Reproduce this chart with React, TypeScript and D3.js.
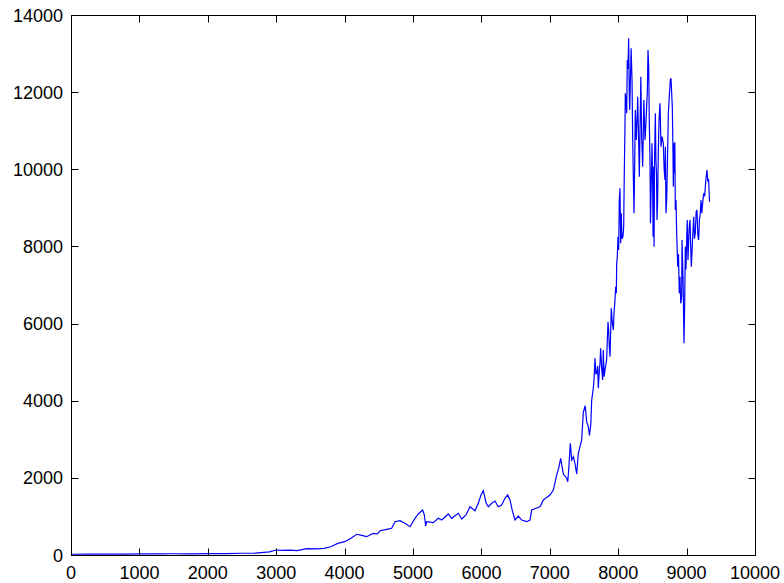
import React from "react";
import * as d3 from "d3";

const xTicks = [0, 1000, 2000, 3000, 4000, 5000, 6000, 7000, 8000, 9000, 10000];
const yTicks = [0, 2000, 4000, 6000, 8000, 10000, 12000, 14000];

const days = [
  0, 250, 500, 750, 1000, 1250, 1500, 1750, 2000, 2250, 2500, 2700, 2900, 3000, 3100, 3200, 3300, 3450, 3600, 3700,
  3800, 3850, 3900, 4000, 4100, 4177, 4250, 4322, 4370, 4418, 4480, 4518, 4615, 4688, 4737, 4810, 4883, 4956, 5029, 5078,
  5141, 5166, 5185, 5200, 5297, 5370, 5419, 5517, 5565, 5663, 5712, 5775, 5833, 5906, 5955, 5994, 6028, 6067, 6101, 6150,
  6199, 6247, 6296, 6345, 6384, 6418, 6452, 6491, 6539, 6589, 6662, 6711, 6735, 6780, 6857, 6906, 6960, 7003, 7052, 7100,
  7130, 7159, 7198, 7247, 7262, 7280, 7300, 7320, 7344, 7368, 7393, 7417, 7442, 7466, 7490, 7517, 7539, 7563, 7580, 7600,
  7612, 7636, 7646, 7661, 7673, 7685, 7700, 7709, 7725, 7734, 7743, 7760, 7773, 7782, 7795, 7807, 7831, 7841, 7851, 7861,
  7870, 7880, 7899, 7915, 7929, 7939, 7950, 7963, 7973, 7978, 7987, 7997, 8007, 8016, 8026, 8036, 8045, 8055, 8070, 8080,
  8089, 8099, 8104, 8114, 8124, 8133, 8143, 8153, 8162, 8168, 8178, 8189, 8202, 8212, 8221, 8231, 8241, 8250, 8265, 8278,
  8285, 8297, 8309, 8319, 8331, 8343, 8358, 8375, 8392, 8406, 8416, 8426, 8436, 8446, 8455, 8465, 8472, 8485, 8494, 8503,
  8510, 8519, 8524, 8532, 8543, 8552, 8560, 8567, 8577, 8586, 8597, 8611, 8626, 8640, 8660, 8672, 8684, 8690, 8699, 8709,
  8720, 8733, 8750, 8762, 8772, 8791, 8800, 8806, 8813, 8820, 8828, 8835, 8845, 8855, 8870, 8882, 8893, 8903, 8914, 8928,
  8933, 8943, 8950, 8962, 8972, 8981, 8991, 9001, 9010, 9020, 9032, 9039, 9050, 9060, 9069, 9080, 9090, 9104, 9115, 9127,
  9140, 9152, 9164, 9176, 9188, 9200, 9210, 9222, 9235, 9250, 9264, 9280, 9298, 9310, 9322, 9335,
];

const values = [
  20, 22, 25, 24, 28, 30, 32, 30, 35, 38, 45, 50, 80, 130, 120, 125, 115, 165, 160, 170,
  215, 260, 300, 345, 440, 537, 510, 475, 520, 560, 545, 630, 666, 692, 864, 890, 821, 734, 951, 1063,
  1167, 1037, 752, 864, 838, 951, 907, 1063, 951, 1081, 933, 1037, 1252, 1149, 1340, 1556, 1667, 1356, 1252, 1340,
  1400, 1252, 1296, 1470, 1556, 1426, 1149, 907, 1011, 907, 864, 907, 1167, 1200, 1252, 1426, 1500, 1556, 1685, 2070,
  2250, 2507, 2100, 1990, 1900, 2300, 2896, 2463, 2549, 2377, 2100, 2637, 2808, 2982, 3700, 3870, 3457, 3327, 3100, 3400,
  4000, 4322, 4537, 5100, 4700, 4711, 4900, 4322, 4800, 4970, 5358, 4800, 4537, 5315, 4624, 4797, 5056, 5574, 6049, 5800,
  5401, 5142, 6395, 6000, 5833, 6275, 6525, 6957, 6785, 7562, 7734, 8253, 7908, 9204, 9507, 8081, 8859, 8200, 8253, 8500,
  9896, 11105, 11970, 11800, 11451, 12834, 12600, 13396, 11970, 11537, 12300, 13137, 12315, 10760, 9809, 8859, 10155, 11537, 10760, 11400,
  11883, 10900, 9809, 11000, 12401, 10846, 10068, 11796, 10760, 11200, 11624, 12000, 13093, 12661, 11191, 10241, 8600, 9800, 10674, 9700,
  8253, 10068, 7994, 10300, 11451, 10200, 9896, 8685, 9204, 10400, 11278, 11710, 10587, 10846, 10674, 9982, 9723, 10587, 8859, 9204,
  10200, 11451, 11970, 12315, 12358, 11624, 10587, 9549, 10674, 9896, 10700, 8944, 9204, 8340, 7475, 7800, 6785, 7216, 6525, 6697,
  8167, 7475, 7000, 5488, 6500, 7994, 7400, 8167, 8685, 7648, 8200, 8512, 8685, 8000, 7475, 7900, 8300, 8771, 8200, 8340,
  8900, 8944, 8300, 8167, 8700, 8859, 9204, 8859, 9118, 9377, 9300, 9700, 9982, 9700, 9723, 9160,
];

const W = 784;
const H = 583;
const L = 71;
const R = 755;
const T = 15;
const B = 555;
const TICK = 7;
const FONT = "'Liberation Sans', Arial, Helvetica, sans-serif";

export default function App() {
  const x = d3.scaleLinear().domain([0, 10000]).range([L, R]);
  const y = d3.scaleLinear().domain([0, 14000]).range([B, T]);
  const pts: [number, number][] = days.map((d, i) => [d, values[i]]);
  const line = d3
    .line<[number, number]>()
    .x((d) => x(d[0]))
    .y((d) => y(d[1]));

  return (
    <svg
      width={W}
      height={H}
      style={{ position: "absolute", left: 0, top: 0, background: "#fff" }}
    >
      <rect x={0} y={0} width={W} height={H} fill="#fff" />
      <path d={line(pts) || ""} fill="none" stroke="#0000ff" strokeWidth={1.2} />
      <rect
        x={L + 0.5}
        y={T + 0.5}
        width={R - L}
        height={B - T}
        fill="none"
        stroke="#000"
        strokeWidth={1}
      />
      {xTicks.map((t) => (
        <g key={"x" + t}>
          <line x1={Math.round(x(t)) + 0.5} x2={Math.round(x(t)) + 0.5} y1={B + 0.5} y2={B + 0.5 - TICK} stroke="#000" />
          <line x1={Math.round(x(t)) + 0.5} x2={Math.round(x(t)) + 0.5} y1={T + 0.5} y2={T + 0.5 + TICK} stroke="#000" />
          <text
            x={x(t)}
            y={579}
            textAnchor="middle"
            fontFamily={FONT}
            fontSize={18}
            fill="#000"
          >
            {t}
          </text>
        </g>
      ))}
      {yTicks.map((t) => (
        <g key={"y" + t}>
          <line x1={L + 0.5} x2={L + 0.5 + TICK} y1={Math.round(y(t)) + 0.5} y2={Math.round(y(t)) + 0.5} stroke="#000" />
          <line x1={R + 0.5} x2={R + 0.5 - TICK} y1={Math.round(y(t)) + 0.5} y2={Math.round(y(t)) + 0.5} stroke="#000" />
          <text
            x={63}
            y={y(t) + 6.5}
            textAnchor="end"
            fontFamily={FONT}
            fontSize={18}
            fill="#000"
          >
            {t}
          </text>
        </g>
      ))}
    </svg>
  );
}
